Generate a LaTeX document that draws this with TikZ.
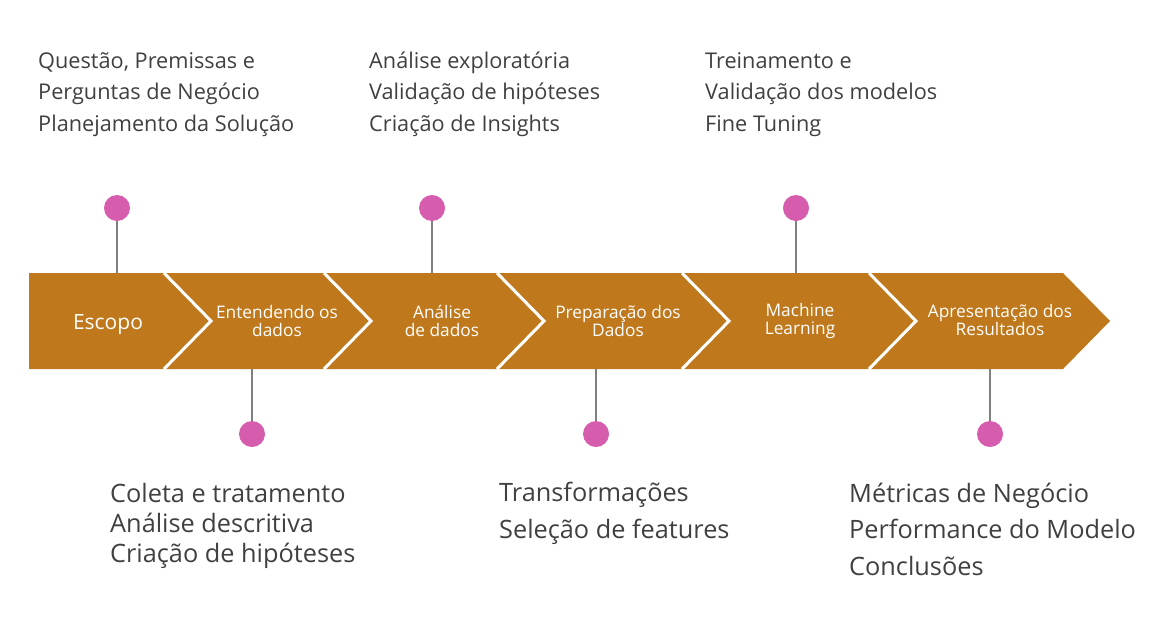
\documentclass[tikz,border=0pt]{standalone}
\usepackage{fontspec}
\setmainfont{Open Sans}
\usetikzlibrary{positioning}
\definecolor{ocre}{HTML}{C0781C}
\definecolor{rosa}{HTML}{D65CAE}
\definecolor{texto}{HTML}{404040}
\tikzset{
	etapa/.style={text=white, align=center, inner sep=0pt, font=\fontsize{17.3}{18.5}\selectfont},
	marco/.style={circle, fill=rosa, minimum size=26pt, inner sep=0pt},
	haste/.style={draw=gray, line width=1.5pt},
	nota/.style={text=texto, align=left, anchor=base west, inner sep=0pt},
	corte/.style={draw=white, line width=3pt}
}
\begin{document}
\begin{tikzpicture}[x=1pt, y=-1pt]
		\useasboundingbox (0,0) rectangle (1161,635);
		\coordinate (topo) at (0,273);
		\coordinate (base) at (0,369);
		% faixa
		\fill[ocre] (29,273) -- (1063,273) -- (1110,321) -- (1063,369) -- (29,369) -- cycle;
		\foreach \s in {164,324,497,682,869}
			\draw[corte] (\s,273) -- (\s+47,321) -- (\s,369);
		% etapas
		\node[etapa, font=\fontsize{21}{23}\selectfont](escopo) at (108,325) {Escopo};
		\node[etapa](entendendo) at (277,321) {Entendendo os\\dados};
		\node[etapa](analise) at (442,321) {Análise\\de dados};
		\node[etapa](preparacao) at (618,321) {Preparação dos\\Dados};
		\node[etapa](ml) at (800,321) {Machine\\Learning};
		\node[etapa](apresentacao) at (1000,320) {Apresentação dos\\Resultados};
		% marcos
		\node[marco](m1) at (117,208) {};
		\node[marco](m2) at (252,434) {};
		\node[marco](m3) at (432,208) {};
		\node[marco](m4) at (596,434) {};
		\node[marco](m5) at (796,208) {};
		\node[marco](m6) at (990,434) {};
		\draw[haste] (m1) -- (m1 |- topo);
		\draw[haste] (m3) -- (m3 |- topo);
		\draw[haste] (m5) -- (m5 |- topo);
		\draw[haste] (m2) -- (m2 |- base);
		\draw[haste] (m4) -- (m4 |- base);
		\draw[haste] (m6) -- (m6 |- base);
		% notas (ancoradas na ultima linha)
		\node[nota, font=\fontsize{21.7}{31.5}\selectfont](n1) at (38,131) {Questão, Premissas e\\Perguntas de Negócio\\Planejamento da Solução};
		\node[nota, font=\fontsize{21.7}{31.5}\selectfont](n3) at (369,131) {Análise exploratória\\Validação de hipóteses\\Criação de Insights};
		\node[nota, font=\fontsize{21.7}{31.5}\selectfont](n5) at (705,131) {Treinamento e\\Validação dos modelos\\Fine Tuning};
		\node[nota, font=\fontsize{25.3}{30}\selectfont](n2) at (110,562) {Coleta e tratamento\\Análise descritiva\\Criação de hipóteses};
		\node[nota, font=\fontsize{25.3}{36.5}\selectfont](n4) at (499,538) {Transformações\\Seleção de features};
		\node[nota, font=\fontsize{25.3}{36.5}\selectfont](n6) at (849,575) {Métricas de Negócio\\Performance do Modelo\\Conclusões};
\end{tikzpicture}
\end{document}
